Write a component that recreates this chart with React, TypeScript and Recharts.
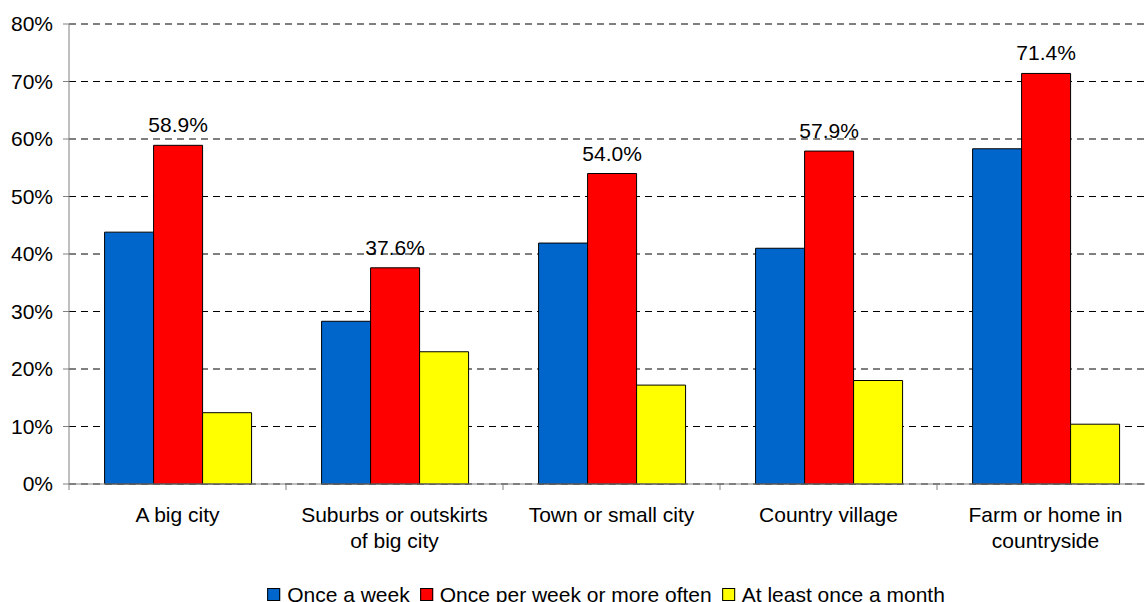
import React from "react";
import { BarChart, Bar, XAxis, YAxis, CartesianGrid, LabelList } from "recharts";

const categories = [
  "A big city",
  "Suburbs or outskirts of big city",
  "Town or small city",
  "Country village",
  "Farm or home in countryside",
];
const onceAWeek = [43.8, 28.3, 41.9, 41.0, 58.3];
const weeklyOrMore = [58.9, 37.6, 54.0, 57.9, 71.4];
const monthly = [12.4, 23.0, 17.2, 18.0, 10.4];
const yTicks = [0, 10, 20, 30, 40, 50, 60, 70, 80];

const SERIES = [
  { key: "week", name: "Once a week", color: "#0066CC" },
  { key: "more", name: "Once per week or more often", color: "#FF0000" },
  { key: "month", name: "At least once a month", color: "#FFFF00" },
];

const data = categories.map((c, i) => ({
  name: c,
  week: onceAWeek[i],
  more: weeklyOrMore[i],
  month: monthly[i],
}));

const FONT = "'Liberation Sans', Arial, sans-serif";

function wrap(s: string, max: number) {
  const lines: string[] = [];
  let cur = "";
  for (const w of s.split(" ")) {
    const next = cur ? cur + " " + w : w;
    if (next.length > max && cur) {
      lines.push(cur);
      cur = w;
    } else cur = next;
  }
  if (cur) lines.push(cur);
  return lines;
}

function CategoryTick(props: any) {
  const { x, y, payload, index, visibleTicksCount } = props;
  const off = payload?.offset || 108.5;
  const lines = wrap(String(payload.value), 20);
  return (
    <g>
      <line x1={x - off} y1={y} x2={x - off} y2={y + 6} stroke="#808080" />
      {index === (visibleTicksCount ?? 5) - 1 && (
        <line x1={x + off} y1={y} x2={x + off} y2={y + 6} stroke="#808080" />
      )}
      <text x={x} y={y} textAnchor="middle" fontSize={21} fontFamily={FONT} fill="#000">
        {lines.map((l, i) => (
          <tspan key={i} x={x} y={y + 38 + i * 26}>{l}</tspan>
        ))}
      </text>
    </g>
  );
}

export default function App() {
  return (
    <div style={{ position: "absolute", left: 0, top: 0, width: 1145, height: 602, overflow: "hidden", background: "#fff" }}>
      <BarChart
        width={1160}
        height={602}
        data={data}
        margin={{ top: 24, right: 6, bottom: 0, left: 0 }}
        barCategoryGap="16.4%"
        barGap={0}
      >
        <CartesianGrid vertical={false} stroke="#000" strokeDasharray="7 5" />
        <XAxis
          dataKey="name"
          height={118}
          axisLine={{ stroke: "#808080" }}
          tickLine={false}
          tickSize={0}
          tickMargin={0}
          interval={0}
          tick={<CategoryTick />}
        />
        <YAxis
          width={69}
          domain={[0, 80]}
          ticks={yTicks}
          tickFormatter={(v) => `${v}%`}
          axisLine={{ stroke: "#808080" }}
          tickLine={{ stroke: "#808080" }}
          tickSize={6}
          tickMargin={10}
          tick={{ fill: "#000", fontSize: 21, fontFamily: FONT }}
        />
        {SERIES.map((s) => (
          <Bar key={s.key} dataKey={s.key} name={s.name} fill={s.color} stroke="#000" strokeWidth={1} isAnimationActive={false}>
            {s.key === "more" && (
              <LabelList
                dataKey="more"
                position="top"
                offset={13}
                formatter={(v: any) => `${Number(v).toFixed(1)}%`}
                style={{ fill: "#000", fontSize: 21, fontFamily: FONT }}
              />
            )}
          </Bar>
        ))}
      </BarChart>
      <div
        style={{
          position: "absolute",
          left: 611,
          top: 584,
          transform: "translateX(-50%)",
          display: "flex",
          whiteSpace: "nowrap",
          fontFamily: FONT,
          fontSize: 21,
          lineHeight: "21px",
          color: "#000",
        }}
      >
        {SERIES.map((s) => (
          <div key={s.key} style={{ display: "flex", alignItems: "center", marginRight: 10 }}>
            <span style={{ width: 11, height: 11, background: s.color, border: "1px solid #000", marginRight: 7, display: "inline-block" }} />
            <span>{s.name}</span>
          </div>
        ))}
      </div>
    </div>
  );
}
